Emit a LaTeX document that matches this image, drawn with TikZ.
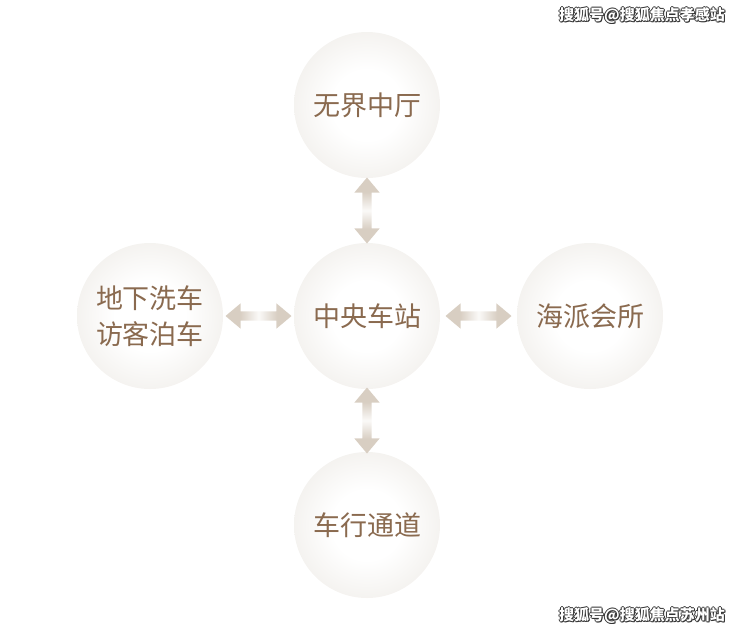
\documentclass[tikz,border=0pt]{standalone}
\usepackage{fontspec}
\newfontfamily\cjk{Noto Sans CJK SC}
\usetikzlibrary{positioning,shapes.arrows}

\definecolor{rim}{HTML}{E0DBD3}
\definecolor{ink}{HTML}{8A6A4F}
\definecolor{tan}{HTML}{D8CEC2}
\pgfdeclareradialshading{pearl}{\pgfpoint{0bp}{0bp}}{color(0bp)=(white); color(12bp)=(white); color(50bp)=(rim)}
\pgfdeclarehorizontalshading{hfade}{100bp}{color(0bp)=(tan); color(36bp)=(tan); color(50bp)=(tan!12); color(64bp)=(tan); color(100bp)=(tan)}
\pgfdeclareverticalshading{vfade}{100bp}{color(0bp)=(tan); color(36bp)=(tan); color(50bp)=(tan!12); color(64bp)=(tan); color(100bp)=(tan)}

\begin{document}
\begin{tikzpicture}[x=0.5pt, y=-0.5pt, on grid,
  main/.style = {circle, shading=pearl, minimum size=73pt, inner sep=0pt, text=ink, align=center,
    font=\cjk\fontsize{13.5pt}{18pt}\selectfont},
  dbl/.style = {double arrow, minimum height=33pt, inner sep=2.1pt, double arrow head extend=4pt,
    double arrow tip angle=80},
  hdbl/.style = {dbl, shading=hfade},
  vdbl/.style = {dbl, shape border rotate=90, shading=vfade},
  wmark/.style = {font=\cjk\bfseries\fontsize{7.5pt}{9pt}\selectfont, inner sep=0pt}]
\useasboundingbox (0,0) rectangle (740,634);

\node[main] (c) at (367,316) {中央车站};
\node[main] (top) [above=105.5pt of c] {无界中厅};
\node[main] (bot) [below=104.5pt of c] {车行通道};
\node[main] (lft) [left=108.5pt of c] {地下洗车\\访客泊车};
\node[main] (rgt) [right=111.5pt of c] {海派会所};

\path (c) -- node[vdbl] (a1) {} (top);
\path (c) -- node[vdbl] (a2) {} (bot);
\path (c) -- node[hdbl] (a3) {} (lft);
\path (c) -- node[hdbl] (a4) {} (rgt);

% watermarks
\foreach \dx/\dy [count=\n] in {-1/0, 1/0, 0/-1, 0/1, 1/1}{
  \node[wmark, text=black!80] (wt\n) at (642+\dx,15+\dy) {搜狐号@搜狐焦点孝感站};
  \node[wmark, text=black!80] (wb\n) at (642+\dx,615+\dy) {搜狐号@搜狐焦点苏州站};
}
\node[wmark, text=white] (wt) at (642,15) {搜狐号@搜狐焦点孝感站};
\node[wmark, text=white] (wb) at (642,615) {搜狐号@搜狐焦点苏州站};
\end{tikzpicture}
\end{document}
